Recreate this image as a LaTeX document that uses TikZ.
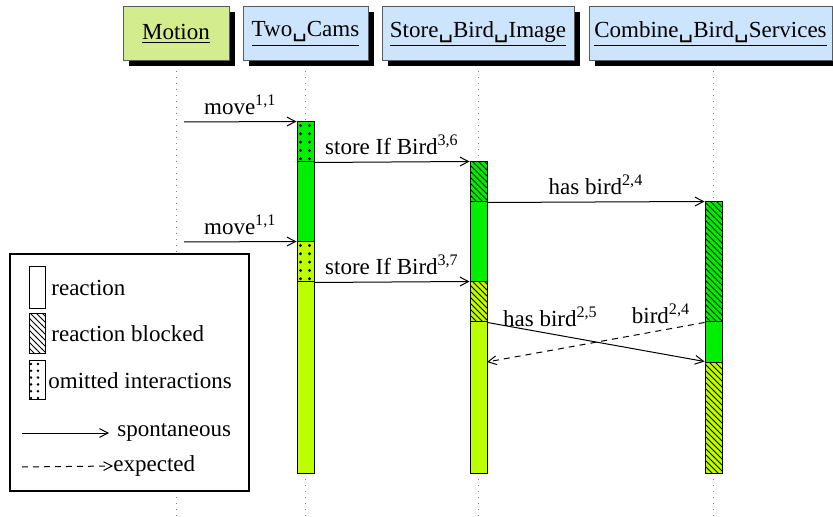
\documentclass[tikz,border=0pt]{standalone}
\usepackage{fontspec}
\setmainfont{Liberation Serif}
\newfontfamily\vsfont{DejaVu Sans}
\newcommand{\vsp}{{\vsfont ␣}}
\usetikzlibrary{patterns,arrows.meta}
\definecolor{actgreen}{RGB}{0,238,0}
\definecolor{actlime}{RGB}{187,255,0}
\definecolor{hdrgreen}{RGB}{210,236,142}
\definecolor{hdrblue}{RGB}{204,228,252}
\definecolor{hdrline}{RGB}{90,90,90}
\tikzset{
  hdr/.style={draw=hdrline, line width=0.5pt, inner sep=0pt, minimum height=27pt},
  shadowbox/.style={fill=black},
  lifeline/.style={draw=gray, line width=0.5pt, dash pattern=on 0.5pt off 2.5pt},
  seg/.style={draw=black, line width=0.5pt, inner sep=0pt, minimum width=8.5pt, rectangle},
  hatchg/.style={preaction={fill=actgreen}, pattern=north west lines},
  hatchl/.style={preaction={fill=actlime}, pattern=north west lines},
  dotmark/.style={fill=black},
  msg/.style={line width=0.5pt, -{Straight Barb[length=4.2pt,width=4.4pt]}},
  expmsg/.style={msg, dash pattern=on 3pt off 2.5pt},
  lbl/.style={inner sep=3.3pt},
}
\begin{document}
\begin{tikzpicture}[x=0.5pt,y=-0.5pt, font=\fontsize{11.5}{13.8}\selectfont]
\useasboundingbox (0,0) rectangle (833,517);

% lifelines
\foreach \xx/\nm in {176/lm,305.5/lt,478.5/ls,713/lc}{
  \coordinate (\nm top) at (\xx,65);
  \coordinate (\nm bot) at (\xx,517);
  \draw[lifeline] (\nm top) -- (\nm bot);
}

% headers with shadows
\fill[shadowbox] (129,12) rectangle (235,66);
\node[hdr, fill=hdrgreen, minimum width=53pt] (hMotion) at (176,34) {\underline{Motion}};
\fill[shadowbox] (249,12) rectangle (374,66);
\node[hdr, fill=hdrblue, minimum width=62.5pt] (hTwo) at (305.5,34) {\underline{Two\vsp Cams}};
\fill[shadowbox] (388,12) rectangle (580,66);
\node[hdr, fill=hdrblue, minimum width=96pt] (hStore) at (478,34) {\underline{Store\vsp Bird\vsp Image}};
\fill[shadowbox] (595,12) rectangle (838,66);
\node[hdr, fill=hdrblue, minimum width=121.5pt] (hComb) at (710.5,34) {\underline{Combine\vsp Bird\vsp Services}};

% activation bars: Two_Cams
\node[seg, fill=actgreen, minimum height=20pt] (ta1) at (305.5,142) {};
\node[seg, fill=actgreen, minimum height=40pt] (ta2) at (305.5,202) {};
\node[seg, fill=actlime, minimum height=20pt] (ta3) at (305.5,262) {};
\node[seg, fill=actlime, minimum height=95.5pt] (ta4) at (305.5,377.5) {};
\foreach \nd in {ta1,ta3}{
  \foreach \dy in {2,6.15,10.3,14.45,18.6}{
    \foreach \dx in {2,6.5}{
      \fill[dotmark] ([xshift=\dx pt, yshift=-\dy pt]\nd.north west) circle[radius=0.8pt];
    }}}
% Store_Bird_Image
\node[seg, hatchg, minimum height=20pt] (sb1) at (478.5,182) {};
\node[seg, fill=actgreen, minimum height=40pt] (sb2) at (478.5,242) {};
\node[seg, hatchl, minimum height=20pt] (sb3) at (478.5,302) {};
\node[seg, fill=actlime, minimum height=75.5pt] (sb4) at (478.5,397.5) {};
% Combine_Bird_Services
\node[seg, hatchg, minimum height=60pt] (cb1) at (713.5,262) {};
\node[seg, fill=actgreen, minimum height=20pt] (cb2) at (713.5,342) {};
\node[seg, hatchl, minimum height=55.5pt] (cb3) at (713.5,417.5) {};

% message start points
\coordinate (mv1) at (184,122);
\coordinate (mv2) at (184,242);
\coordinate (expend) at (487,362);

% messages
\draw[msg] (mv1) -- (ta1.north west) node[midway, above, lbl] {move\textsuperscript{1,1}};
\draw[msg] (ta1.south east) -- (sb1.north west) node[midway, above, lbl] {store If Bird\textsuperscript{3,6}};
\draw[msg] (sb1.south east) -- (cb1.north west) node[midway, above, lbl] {has bird\textsuperscript{2,4}};
\draw[msg] (mv2) -- (ta3.north west) node[midway, above, lbl] {move\textsuperscript{1,1}};
\draw[msg] (ta3.south east) -- (sb3.north west) node[midway, above, lbl] {store If Bird\textsuperscript{3,7}};
\draw[msg] (sb3.south east) -- (cb3.north west) node[pos=0.29, above, lbl] {has bird\textsuperscript{2,5}};
\draw[expmsg] (cb1.south west) -- (expend) node[pos=0.2, above, lbl] {bird\textsuperscript{2,4}};

% legend
\node[draw=black, line width=0.6pt, fill=white, minimum width=119.5pt, minimum height=118.5pt, inner sep=0pt] (legend) at (129.5,372.5) {};
\node[seg, fill=white, minimum width=8.3pt, minimum height=20.6pt] (lg1) at (37.3,287.5) {};
\node[anchor=west, inner sep=0pt] (lt1) at (51,288) {reaction};
\node[seg, pattern=north west lines, minimum width=8.3pt, minimum height=20pt] (lg2) at (37.3,334) {};
\node[anchor=west, inner sep=0pt] (lt2) at (51,334) {reaction blocked};
\node[seg, fill=white, minimum width=8.3pt, minimum height=19.5pt] (lg3) at (37.3,380) {};
\foreach \dy in {2,5.4,8.8,12.2,15.6,19}{
  \foreach \dx in {1.25,4.75}{
    \fill[dotmark] ([xshift=\dx pt, yshift=-\dy pt]lg3.north west) circle[radius=0.7pt];
  }}
\node[anchor=west, inner sep=0pt] (lt3) at (48,381) {omitted interactions};
\coordinate (la1) at (22,433);
\coordinate (la1e) at (109,433);
\node[anchor=west, inner sep=0pt] (lt4) at (117,432) {spontaneous};
\draw[msg] (la1) -- (la1e);
\coordinate (la2) at (22,467);
\node[anchor=west, inner sep=0pt] (lt5) at (113,466) {expected};
\draw[expmsg] (la2) -- (lt5.west);
\end{tikzpicture}
\end{document}
